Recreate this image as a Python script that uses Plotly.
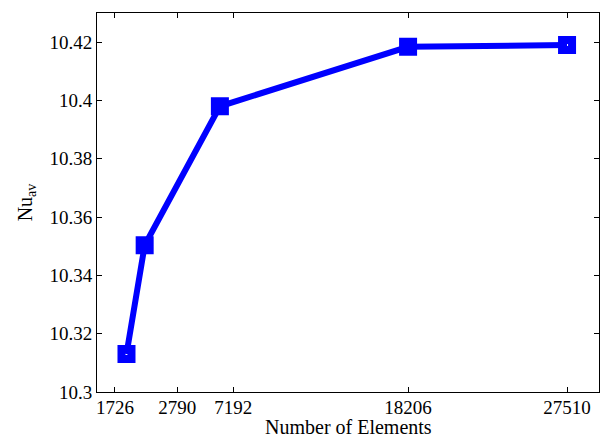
import plotly.graph_objects as go

# Mesh-independence study: average Nusselt number vs. element count
elements = [1726, 2790, 7192, 18206, 27510]
nu_av = [10.313, 10.3503, 10.398, 10.4184, 10.419]

# x-axis tick positions and their labels
x_tick_pos = [1050, 4700, 7970, 18206, 27510]
x_tick_text = ["1726", "2790", "7192", "18206", "27510"]

y_tick_vals = [10.30, 10.32, 10.34, 10.36, 10.38, 10.40, 10.42]
y_tick_text = ["10.3", "10.32", "10.34", "10.36", "10.38", "10.4", "10.42"]

blue = "#0000ff"
font_family = "Liberation Serif"

fig = go.Figure()
fig.add_trace(go.Scatter(
    x=elements, y=nu_av,
    mode="lines+markers",
    line=dict(color=blue, width=6),
    marker=dict(symbol="square-open", size=10, color=blue,
                line=dict(color=blue, width=8)),
    showlegend=False,
))

axis_common = dict(
    showline=True, linecolor="black", linewidth=1, mirror="ticks",
    ticks="inside", ticklen=5, tickcolor="black", tickwidth=1,
    showgrid=False, zeroline=False,
    tickfont=dict(family=font_family, size=19, color="black"),
)

fig.update_layout(
    width=601, height=439,
    margin=dict(l=97, r=2, t=13, b=47),
    paper_bgcolor="white", plot_bgcolor="white",
    font=dict(family=font_family, color="black"),
    xaxis=dict(
        range=[0, 29380],
        tickmode="array", tickvals=x_tick_pos, ticktext=x_tick_text,
        ticklabelstandoff=-2,
        **axis_common,
    ),
    yaxis=dict(
        range=[10.30, 10.43],
        tickmode="array", tickvals=y_tick_vals, ticktext=y_tick_text,
        title=dict(text="Nu<sub>av</sub>", font=dict(family=font_family, size=20),
                   standoff=11),
        **axis_common,
    ),
    annotations=[dict(
        text="Number of Elements", showarrow=False,
        xref="paper", yref="paper", x=0.5, y=-0.124,
        xanchor="center", yanchor="bottom", borderpad=0,
        font=dict(family=font_family, size=20, color="black"),
    )],
)

fig.write_html("out.html")
